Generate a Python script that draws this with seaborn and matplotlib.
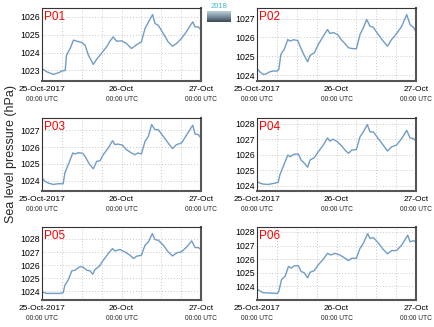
import numpy as np
import pandas as pd
import matplotlib
matplotlib.use("Agg")
import matplotlib.pyplot as plt
import seaborn as sns

# ---------------- data (hours since 25-Oct-2017 00:00 UTC, hPa) ----------------
stations = ["P01", "P02", "P03", "P04", "P05", "P06"]

p01_hours = [0, 1.4, 3.4, 4.9, 6.2, 7, 7.4, 8.5, 9.5, 10.5, 12, 13, 14, 15.5, 16.5, 17.5, 19.5, 20.5,
             21.5, 22.5, 24, 25.5, 27, 28.6, 30, 31.1, 32.4, 33.4, 34.1, 35.1, 36.6, 38.1, 39.4, 40.6,
             42.1, 43.7, 44.7, 45.5, 46.2, 47.2, 48]
p01_hpa = [1023.11, 1022.93, 1022.78, 1022.87, 1022.98, 1023.0, 1023.86, 1024.23, 1024.70, 1024.64,
           1024.57, 1024.42, 1023.86, 1023.34, 1023.63, 1023.86, 1024.32, 1024.64, 1024.88, 1024.64,
           1024.66, 1024.51, 1024.23, 1024.45, 1024.60, 1025.35, 1025.81, 1026.13, 1025.63, 1025.53,
           1025.07, 1024.60, 1024.36, 1024.51, 1024.79, 1025.20, 1025.50, 1025.72, 1025.44, 1025.44,
           1025.26]

p02_hours = [0, 0.9, 1.9, 2.9, 3.9, 4.9, 6.2, 6.6, 7.2, 8.2, 9.3, 10, 11, 12.3, 13, 14, 15.3, 16, 17.3,
             18.5, 20, 21.3, 22, 23, 24.3, 25.4, 26.6, 27.6, 28.6, 30, 31.1, 32.1, 33.1, 34.1, 35.1,
             36.6, 38.1, 39.4, 40.6, 42.1, 43.7, 45.2, 46.2, 47.2, 48]
p02_hpa = [1024.37, 1024.18, 1024.05, 1024.09, 1024.19, 1024.23, 1024.23, 1024.32, 1025.11, 1025.37,
           1025.89, 1025.81, 1025.88, 1025.84, 1025.54, 1025.14, 1024.72, 1025.05, 1025.19, 1025.63,
           1026.07, 1026.42, 1026.21, 1026.26, 1026.16, 1025.89, 1025.67, 1025.46, 1025.42, 1025.40,
           1026.16, 1026.51, 1026.95, 1026.60, 1026.54, 1026.16, 1025.81, 1025.54, 1025.89, 1026.19,
           1026.60, 1027.21, 1026.68, 1026.54, 1026.30]

p03_hours = [0, 0.9, 1.9, 3.4, 4.9, 6.4, 6.9, 7.9, 9.3, 10, 11, 12.3, 13, 14.3, 15.5, 16.5, 17.5, 18.5,
             20, 21.3, 22, 23, 24.3, 25.5, 27, 28, 29, 30, 31.1, 32.1, 33.1, 34.1, 35.1, 36.6, 38.1,
             39.4, 40.6, 42.1, 43.7, 45.5, 46.2, 47.2, 48]
p03_hpa = [1024.16, 1023.96, 1023.86, 1023.78, 1023.82, 1023.82, 1024.46, 1024.95, 1025.65, 1025.59,
           1025.67, 1025.63, 1025.45, 1024.99, 1024.71, 1025.15, 1025.19, 1025.55, 1025.95, 1026.38,
           1026.15, 1026.18, 1026.11, 1025.85, 1025.65, 1025.55, 1025.65, 1025.59, 1026.34, 1026.64,
           1027.34, 1027.04, 1027.04, 1026.64, 1026.24, 1025.91, 1026.15, 1026.24, 1026.74, 1027.30,
           1026.78, 1026.74, 1026.54]

p04_hours = [0, 0.9, 1.9, 3.4, 4.9, 6.4, 6.9, 7.9, 9.3, 10, 11.3, 12.5, 13.3, 14.3, 15.3, 16, 17.3,
             18.5, 20, 21.3, 22, 23, 24.3, 25.5, 26.6, 27.6, 28.6, 30, 31.1, 32.1, 33.3, 34.1, 35.1,
             36.6, 38.1, 39.4, 40.6, 42.1, 43.7, 45.2, 46.2, 47.2, 48]
p04_hpa = [1024.26, 1024.15, 1024.09, 1024.07, 1024.13, 1024.20, 1024.69, 1025.22, 1025.97, 1025.86,
           1026.03, 1026.03, 1025.65, 1025.44, 1025.18, 1025.65, 1025.80, 1026.18, 1026.61, 1027.08,
           1026.87, 1027.00, 1026.82, 1026.57, 1026.29, 1026.08, 1026.29, 1026.33, 1027.15, 1027.47,
           1027.94, 1027.47, 1027.47, 1027.04, 1026.61, 1026.23, 1026.50, 1026.61, 1027.04, 1027.57,
           1027.08, 1027.04, 1026.87]

p05_hours = [0, 1.4, 3.4, 5.4, 6.4, 6.9, 7.9, 9, 10, 11.3, 12.3, 13.5, 14.5, 15.3, 16, 17.3, 18.5, 20,
             21.3, 22, 23.5, 25, 26.6, 27.6, 28.6, 30, 31.1, 32.1, 33.3, 34.1, 35.1, 36.6, 38.1, 39.4,
             40.6, 42.1, 43.7, 45.2, 46.2, 47.2, 48]
p05_hpa = [1023.95, 1023.83, 1023.83, 1023.83, 1023.88, 1024.46, 1024.84, 1025.56, 1025.61, 1025.86,
           1025.86, 1025.61, 1025.56, 1025.30, 1025.66, 1025.91, 1026.37, 1026.88, 1027.26, 1027.08,
           1027.19, 1027.01, 1026.75, 1026.50, 1026.68, 1026.75, 1027.52, 1027.77, 1028.41, 1027.95,
           1027.90, 1027.52, 1027.01, 1026.70, 1026.93, 1027.01, 1027.39, 1027.85, 1027.34, 1027.34,
           1027.19]

p06_hours = [0, 0.9, 1.9, 3.9, 6.2, 6.6, 7.4, 8.5, 9.5, 10.3, 11.3, 12.5, 13.3, 14.3, 15.3, 16, 17.3,
             18.5, 20, 21.3, 22.3, 23.5, 25, 26.6, 27.6, 28.6, 30, 31.1, 32.1, 33.4, 34.1, 35.1, 36.6,
             38.1, 39.4, 40.6, 42.1, 43.7, 45.5, 46.2, 47.2, 48]
p06_hpa = [1023.83, 1023.66, 1023.54, 1023.52, 1023.49, 1023.66, 1024.51, 1024.75, 1025.47, 1025.35,
           1025.52, 1025.52, 1025.11, 1024.99, 1024.63, 1025.04, 1025.16, 1025.59, 1026.00, 1026.43,
           1026.31, 1026.43, 1026.31, 1026.07, 1025.90, 1026.07, 1026.07, 1026.80, 1027.16, 1027.88,
           1027.52, 1027.59, 1027.20, 1026.72, 1026.39, 1026.63, 1026.63, 1027.04, 1027.76, 1027.28,
           1027.35, 1027.28]

hours_list = [p01_hours, p02_hours, p03_hours, p04_hours, p05_hours, p06_hours]
hpa_list = [p01_hpa, p02_hpa, p03_hpa, p04_hpa, p05_hpa, p06_hpa]

xtick_hours = [0, 24, 48]
xtick_labels = ["25-Oct-2017", "26-Oct", "27-Oct"]
xtick_sub = "00:00 UTC"
ylabel = "Sea level pressure (hPa)"

# ---------------- figure ----------------
sns.set_theme(style="white")
plt.rcParams["font.family"] = ["Liberation Sans", "DejaVu Sans"]

W, H = 435, 327
fig = plt.figure(figsize=(W / 100, H / 100), dpi=100)

col_left = [42, 257]
row_top = [8, 118, 227]
aw, ah = 159, 73

line_color = "#6f9cc8"

for i, (name, hrs, vals) in enumerate(zip(stations, hours_list, hpa_list)):
    r, c = divmod(i, 2)
    x0 = col_left[c] / W
    y0 = 1 - (row_top[r] + ah) / H
    ax = fig.add_axes([x0, y0, aw / W, ah / H])
    df = pd.DataFrame({"hour": hrs, "hpa": vals})
    sns.lineplot(data=df, x="hour", y="hpa", ax=ax, color=line_color, linewidth=1.0)
    ax.set_xlim(0, 48)
    ax.margins(y=0.11)
    ax.set_xlabel("")
    ax.set_ylabel("")
    ax.set_xticks(xtick_hours)
    ax.set_xticklabels(xtick_labels)
    ax.set_xticks(np.arange(0, 49, 6), minor=True)
    ax.yaxis.set_major_locator(matplotlib.ticker.MultipleLocator(1))
    ax.yaxis.set_major_formatter(matplotlib.ticker.FormatStrFormatter("%d"))
    ax.grid(True, which="both", axis="x", color="#c8c8c8", linestyle=(0, (1, 2)), linewidth=0.7)
    ax.grid(True, which="major", axis="y", color="#c8c8c8", linestyle=(0, (1, 2)), linewidth=0.7)
    ax.set_axisbelow(True)
    ax.tick_params(axis="both", which="both", length=0)
    ax.tick_params(axis="y", labelsize=6.3, pad=1.5, colors="black")
    ax.tick_params(axis="x", labelsize=6.0, pad=3.6, colors="black")
    for lab in ax.get_xticklabels():
        lab.set_fontweight("normal")
    for h in xtick_hours:
        ax.annotate(xtick_sub, xy=(h, 0), xycoords=("data", "axes fraction"),
                    xytext=(0, -10.8), textcoords="offset points",
                    ha="center", va="top", fontsize=4.8, color="#222222",
                    annotation_clip=False)
    for side in ["left", "top"]:
        ax.spines[side].set_color("#333333")
        ax.spines[side].set_linewidth(0.8)
    for side in ["right", "bottom"]:
        ax.spines[side].set_color("#555555")
        ax.spines[side].set_linewidth(1.5)
    ax.text(0.012, 0.96, name, transform=ax.transAxes, ha="left", va="top",
            color="red", fontsize=8.5)

fig.text(11 / W, 1 - 154 / H, ylabel, rotation=90, ha="center", va="center", fontsize=9)

# small logo (top centre)
lax = fig.add_axes([207 / W, 1 - 22 / H, 24 / W, 11 / H])
grad = np.linspace(0, 1, 20).reshape(-1, 1)
lax.imshow(grad, aspect="auto", cmap=matplotlib.colors.LinearSegmentedColormap.from_list(
    "lg", ["#b9cdd6", "#7890a0", "#3d4a56"]))
lax.axis("off")
fig.text(219 / W, 1 - 7 / H, "2018", ha="center", va="center", fontsize=5.5, color="#40b8d0")

fig.savefig("out.png", dpi=100)
